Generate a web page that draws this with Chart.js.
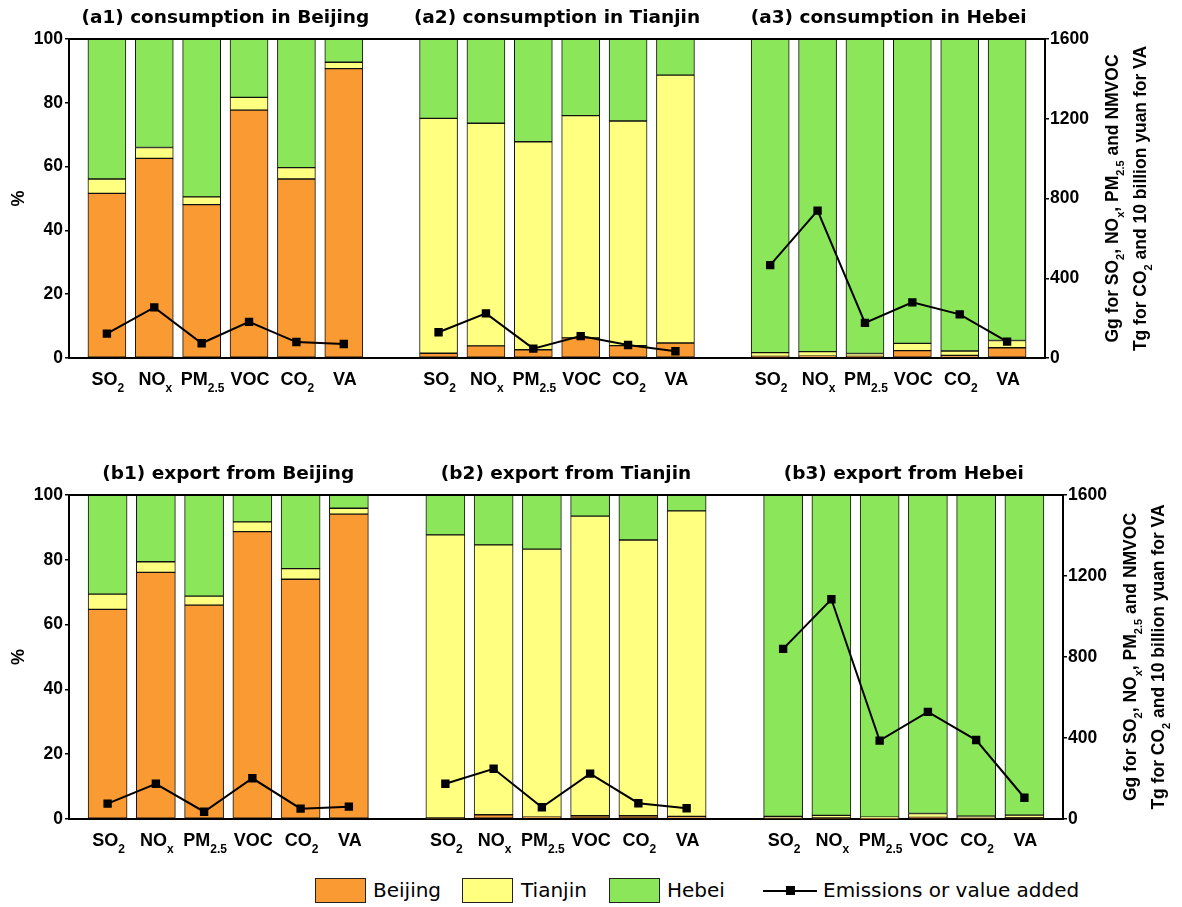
<!DOCTYPE html>
<html>
<head>
<meta charset="utf-8">
<script src="https://cdn.jsdelivr.net/npm/chart.js@4"></script>
<style>
  body { margin: 0; background: #fff; width: 1182px; height: 907px; position: relative; overflow: hidden; }
  .row { position: absolute; left: 0; width: 1182px; }
  #legend { position: absolute; left: 0; top: 878px; width: 1182px; height: 26px; font: 20px "DejaVu Sans", sans-serif; color: #000; }
  .key { position: absolute; top: 0; width: 49px; height: 23px; border: 1px solid #222; }
  .lbl { position: absolute; top: 0; line-height: 25px; }
</style>
</head>
<body>
<div class="row" style="top:0;height:400px"><canvas id="rowA"></canvas></div>
<div class="row" style="top:440px;height:420px"><canvas id="rowB"></canvas></div>
<div id="legend">
  <div class="key" style="left:315px;background:#FA9A32"></div><div class="lbl" style="left:373px">Beijing</div>
  <div class="key" style="left:462px;background:#FFFF80"></div><div class="lbl" style="left:521px">Tianjin</div>
  <div class="key" style="left:609px;background:#8CE65A"></div><div class="lbl" style="left:667px">Hebei</div>
  <div style="position:absolute;left:763px;top:12px;width:54px;height:2px;background:#000"></div>
  <div style="position:absolute;left:786px;top:8px;width:9px;height:9px;background:#000"></div>
  <div class="lbl" style="left:823px">Emissions or value added</div>
</div>
<script>
// categories (main text + subscript)
const categories = ['SO', 'NO', 'PM', 'VOC', 'CO', 'VA'];
const subscripts = ['2', 'x', '2.5', '', '2', ''];

const pctTicks = [0, 20, 40, 60, 80, 100];
const amountTicks = [0, 400, 800, 1200, 1600];

const consumptionTitles = ['(a1) consumption in Beijing', '(a2) consumption in Tianjin', '(a3) consumption in Hebei'];
const exportTitles = ['(b1) export from Beijing', '(b2) export from Tianjin', '(b3) export from Hebei'];

// shares (%) by region of origin, one row per panel
const consBeijing = [
  [51.6, 62.6, 48.1, 77.7, 56.1, 90.7],
  [1.5, 3.8, 2.6, 6.3, 3.9, 4.7],
  [0.5, 0.6, 0.5, 2.3, 0.8, 3.2]
];
const consTianjin = [
  [4.5, 3.4, 2.4, 4.0, 3.6, 2.0],
  [73.6, 69.8, 65.2, 69.7, 70.4, 84.0],
  [1.2, 1.4, 0.9, 2.3, 1.4, 2.3]
];
const consHebei = [
  [43.9, 34.0, 49.5, 18.3, 40.3, 7.3],
  [24.9, 26.4, 32.2, 24.0, 25.7, 11.3],
  [98.3, 98.0, 98.6, 95.4, 97.8, 94.5]
];
const consTotal = [
  [122, 254, 74, 181, 80, 70],
  [129, 224, 47, 110, 65, 34],
  [466, 739, 176, 279, 219, 82]
];

const expBeijing = [
  [64.7, 76.1, 66.0, 88.7, 74.0, 94.1],
  [0.3, 1.3, 0.6, 1.0, 1.0, 0.8],
  [0.3, 0.3, 0.2, 0.5, 0.3, 0.4]
];
const expTianjin = [
  [4.7, 3.3, 2.8, 3.0, 3.3, 1.8],
  [87.4, 83.3, 82.7, 92.5, 85.1, 94.3],
  [0.5, 0.8, 0.4, 1.2, 0.6, 0.8]
];
const expHebei = [
  [30.6, 20.6, 31.2, 8.3, 22.7, 4.1],
  [12.3, 15.4, 16.7, 6.5, 13.9, 4.9],
  [99.2, 98.9, 99.4, 98.3, 99.1, 98.8]
];
const expTotal = [
  [76, 174, 36, 201, 51, 61],
  [174, 248, 58, 224, 78, 53],
  [840, 1085, 387, 529, 390, 105]
];

const SANS = '"Liberation Sans", Arial, sans-serif';
Chart.defaults.font.family = SANS;
Chart.defaults.color = '#000';

// panel p, category k -> position on the shared x axis (one empty slot between panels)
const slot = (p, k) => p * 7 + k;

function barPoints(rows) {
  const pts = [];
  rows.forEach((vals, p) => vals.forEach((v, k) => pts.push({ x: slot(p, k), y: v })));
  return pts;
}
function linePoints(rows) {
  const pts = [];
  rows.forEach((vals, p) => {
    vals.forEach((v, k) => pts.push({ x: slot(p, k), y: v }));
    if (p < rows.length - 1) pts.push({ x: slot(p, 6), y: null });
  });
  return pts;
}

// draws [text, isSub] runs centred on x, main text on baseline y
function drawRuns(ctx, runs, x, y, mainFont, subFont, subDrop) {
  let w = 0;
  runs.forEach(([t, sub]) => { ctx.font = sub ? subFont : mainFont; w += ctx.measureText(t).width; });
  let cx = x - w / 2;
  ctx.textAlign = 'left';
  ctx.textBaseline = 'alphabetic';
  runs.forEach(([t, sub]) => {
    ctx.font = sub ? subFont : mainFont;
    ctx.fillText(t, cx, sub ? y + subDrop : y);
    cx += ctx.measureText(t).width;
  });
}

const panelText = {
  id: 'panelText',
  afterDraw(chart, args, opts) {
    const { ctx, chartArea: a, scales: { x } } = chart;
    ctx.save();
    ctx.strokeStyle = '#000';
    ctx.lineWidth = 2;
    ctx.beginPath();
    ctx.moveTo(a.left, a.top);
    ctx.lineTo(a.right, a.top);
    ctx.stroke();

    ctx.fillStyle = '#000';
    ctx.font = 'bold 18.5px "DejaVu Sans", sans-serif';
    ctx.textAlign = 'center';
    ctx.textBaseline = 'middle';
    opts.titles.forEach((t, p) => ctx.fillText(t, x.getPixelForValue(slot(p, 2.5)), a.top - 21));

    for (let p = 0; p < 3; p++) {
      categories.forEach((c, k) => {
        drawRuns(ctx, [[c, false], [subscripts[k], true]], x.getPixelForValue(slot(p, k)) + 1,
          a.bottom + 27, 'bold 18px ' + SANS, 'bold 12px ' + SANS, 7);
      });
    }

    const midY = (a.top + a.bottom) / 2;
    // left axis title
    ctx.save();
    ctx.translate(18, midY);
    ctx.rotate(-Math.PI / 2);
    drawRuns(ctx, [['%', false]], 0, 6, 'bold 18px ' + SANS, '', 0);
    ctx.restore();

    // right axis title, two lines
    const lines = [
      [['Gg for SO', false], ['2', true], [', NO', false], ['x', true], [', PM', false], ['2.5', true], [' and NMVOC', false]],
      [['Tg for CO', false], ['2', true], [' and 10 billion yuan for VA', false]]
    ];
    [67, 95].forEach((dx, i) => {
      ctx.save();
      ctx.translate(a.right + dx, midY);
      ctx.rotate(-Math.PI / 2);
      drawRuns(ctx, lines[i], 0, 6, 'bold 17.5px ' + SANS, 'bold 11px ' + SANS, 6);
      ctx.restore();
    });
    ctx.restore();
  }
};

function makeRow(id, cfg) {
  const bar = (label, rows, color) => ({
    type: 'bar', label, data: barPoints(rows), backgroundColor: color,
    borderColor: '#111', borderWidth: 1, borderSkipped: false,
    barThickness: cfg.barWidth, order: 1, yAxisID: 'y'
  });
  const canvas = document.getElementById(id);
  canvas.width = 1182;
  canvas.height = cfg.height;
  return new Chart(canvas, {
    data: {
      datasets: [
        {
          type: 'line', label: 'Emissions or value added', data: linePoints(cfg.total),
          yAxisID: 'y1', borderColor: '#000', borderWidth: 2, pointStyle: 'rect',
          pointRadius: 4.5, pointBackgroundColor: '#000', pointBorderColor: '#000',
          spanGaps: false, order: 0, tension: 0
        },
        bar('Beijing', cfg.beijing, '#FA9A32'),
        bar('Tianjin', cfg.tianjin, '#FFFF80'),
        bar('Hebei', cfg.hebei, '#8CE65A')
      ]
    },
    options: {
      responsive: false,
      animation: false,
      layout: { padding: { top: cfg.top, left: 0, right: 0, bottom: 0 } },
      plugins: { legend: { display: false }, tooltip: { enabled: false }, panelText: { titles: cfg.titles } },
      scales: {
        x: {
          type: 'linear', min: -0.8, max: 19.8, stacked: true, offset: false,
          grid: { display: false, offset: false },
          ticks: { display: false, stepSize: 1 },
          border: { display: true, color: '#000', width: 2 },
          afterFit: s => { s.height = cfg.height - cfg.bottom; }
        },
        y: {
          position: 'left', min: 0, max: 100, stacked: true,
          afterBuildTicks: s => { s.ticks = pctTicks.map(v => ({ value: v })); },
          grid: { drawOnChartArea: false, tickLength: 4, color: '#000', lineWidth: 1.5 },
          border: { display: true, color: '#000', width: 2 },
          ticks: { padding: 2, font: { size: 17.5, weight: 'bold' }, color: '#000', callback: v => String(v) },
          afterFit: s => { s.width = 69; }
        },
        y1: {
          position: 'right', min: 0, max: 1600, stacked: false,
          afterBuildTicks: s => { s.ticks = amountTicks.map(v => ({ value: v })); },
          grid: { drawOnChartArea: false, tickLength: 4, color: '#000', lineWidth: 1.5 },
          border: { display: true, color: '#000', width: 2 },
          ticks: { padding: 1, font: { size: 17.5, weight: 'bold' }, color: '#000', callback: v => String(v) },
          afterFit: s => { s.width = 1182 - cfg.right; }
        }
      }
    },
    plugins: [panelText]
  });
}

makeRow('rowA', {
  height: 400, top: 39, bottom: 358, right: 1045, barWidth: 38,
  titles: consumptionTitles, beijing: consBeijing, tianjin: consTianjin, hebei: consHebei, total: consTotal
});
makeRow('rowB', {
  height: 420, top: 55, bottom: 379, right: 1063, barWidth: 39,
  titles: exportTitles, beijing: expBeijing, tianjin: expTianjin, hebei: expHebei, total: expTotal
});
</script>
</body>
</html>
